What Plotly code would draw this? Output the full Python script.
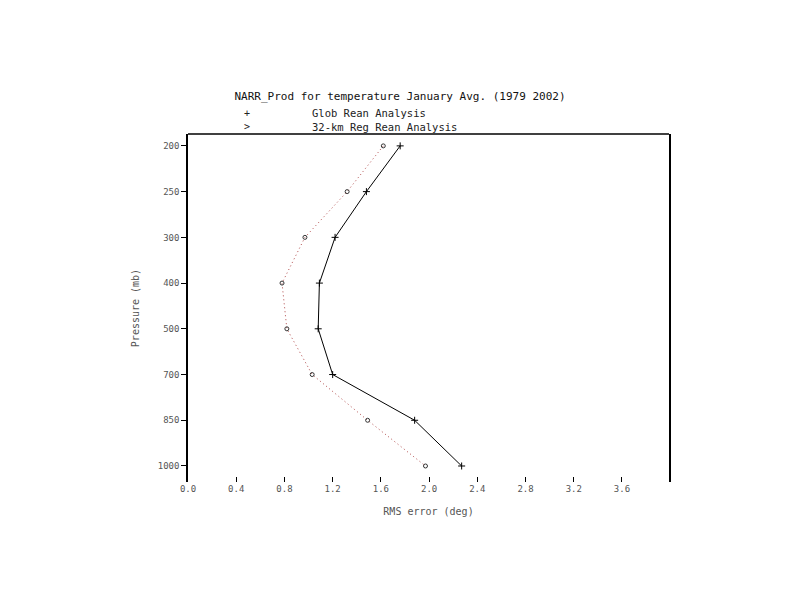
import plotly.graph_objects as go

levels = ["200", "250", "300", "400", "500", "700", "850", "1000"]
glob_rmse = [1.76, 1.48, 1.22, 1.09, 1.08, 1.20, 1.88, 2.27]
reg_rmse = [1.62, 1.32, 0.97, 0.78, 0.82, 1.03, 1.49, 1.97]
x_ticks = [0.0, 0.4, 0.8, 1.2, 1.6, 2.0, 2.4, 2.8, 3.2, 3.6]
legend_syms = ["+", ">"]
legend_labels = ["Glob Rean Analysis", "32-km Reg Rean Analysis"]

mono = "DejaVu Sans Mono"
W, H = 778, 579          # page body has an 8px margin
L, T, R, B = 180, 126, 117, 105
plot_w, plot_h = W - L - R, H - T - B

fig = go.Figure()

fig.add_trace(go.Scatter(
    x=glob_rmse, y=levels, mode="lines+markers",
    line=dict(color="black", width=1),
    marker=dict(symbol="cross-thin-open", size=5, color="black", line=dict(width=1, color="black")),
    name=legend_labels[0]
))
fig.add_trace(go.Scatter(
    x=reg_rmse, y=levels, mode="lines+markers",
    line=dict(color="#b04848", width=1, dash="1px,3px"),
    marker=dict(symbol="circle-open", size=4, color="#333333", line=dict(width=1, color="#333333")),
    name=legend_labels[1]
))

# frame top edge (no bottom edge in the original)
fig.add_shape(type="line", xref="paper", yref="paper", x0=0, x1=1, y0=1, y1=1,
              line=dict(color="black", width=1.5))

# legend drawn as two text columns, like the original
legend_y = (T + plot_h - 112) / plot_h
fig.add_annotation(x=(239 - L) / plot_w, y=legend_y, xref="paper", yref="paper",
                   text="<br>".join(legend_syms), showarrow=False,
                   xanchor="center", yanchor="middle", align="center",
                   font=dict(family=mono, size=10, color="#222"))
fig.add_annotation(x=(302 - L) / plot_w, y=legend_y, xref="paper", yref="paper",
                   text="<br>".join(legend_labels), showarrow=False,
                   xanchor="left", yanchor="middle", align="left",
                   font=dict(family=mono, size=10.5, color="#222"))

fig.update_layout(
    title=dict(text="NARR_Prod for temperature January Avg. (1979 2002)",
               x=392 / W, xanchor="center", y=1 - 88 / H, yanchor="middle",
               font=dict(family=mono, size=11, color="#111")),
    xaxis=dict(
        range=[0, 3.99], tickvals=x_ticks, ticktext=[f"{v:.1f}" for v in x_ticks],
        showline=False, showgrid=False, zeroline=False,
        ticks="inside", ticklen=5, tickcolor="black",
        tickfont=dict(family=mono, size=9, color="#555"),
        title=dict(text="RMS error (deg)", standoff=14,
                   font=dict(family=mono, size=10, color="#555")),
    ),
    yaxis=dict(
        type="category", categoryorder="array", categoryarray=levels,
        range=[7.35, -0.26],
        showline=True, linecolor="black", linewidth=1.5, mirror=True,
        showgrid=False, zeroline=False,
        ticks="outside", ticklen=5, tickcolor="black",
        tickfont=dict(family=mono, size=9, color="#555"),
        title=dict(text="Pressure (mb)", standoff=16,
                   font=dict(family=mono, size=10, color="#555")),
    ),
    showlegend=False,
    paper_bgcolor="white",
    plot_bgcolor="white",
    margin=dict(l=L, r=R, t=T, b=B, autoexpand=False),
    width=W, height=H,
)

fig.write_html("out.html")
